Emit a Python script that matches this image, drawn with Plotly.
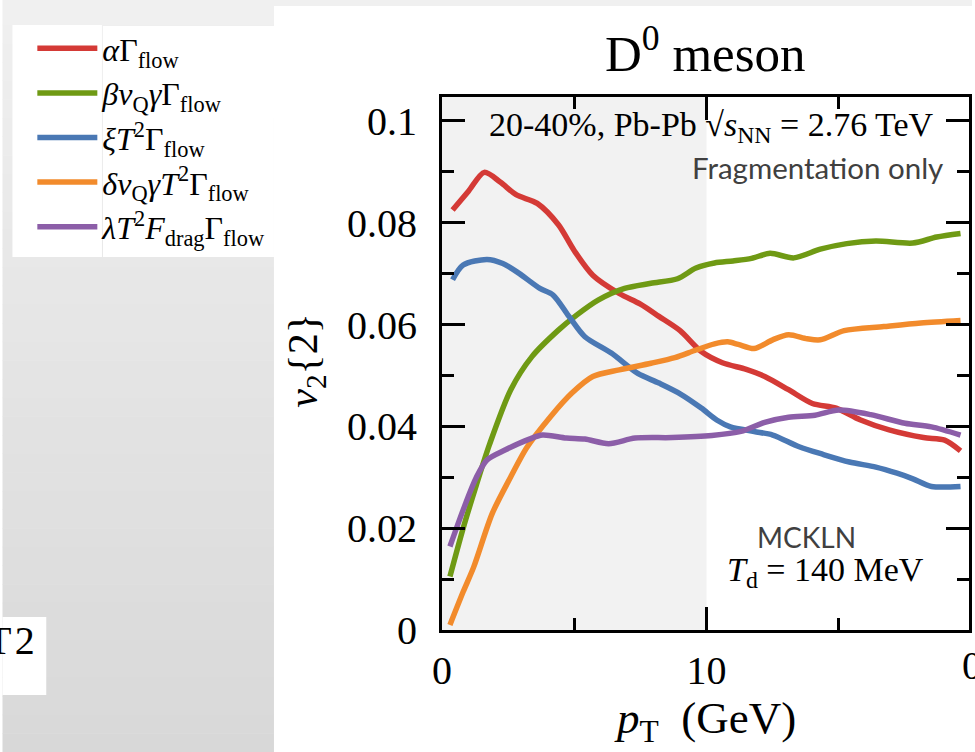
import plotly.graph_objects as go

# ---------------- data ----------------
red_x = [0.4, 1.0, 1.6, 2.2, 2.8, 3.6, 4.4, 5.0, 5.7, 6.7, 7.5, 8.2, 9.0, 9.8, 10.6, 11.5, 12.2, 13.1, 14.0, 14.9, 15.8, 16.9, 18.2, 19.0, 19.6]
red_y = [0.0825, 0.0862, 0.0899, 0.0880, 0.0855, 0.0838, 0.0796, 0.0745, 0.0697, 0.0661, 0.0640, 0.0616, 0.0588, 0.0547, 0.0525, 0.0512, 0.0498, 0.0472, 0.0445, 0.0436, 0.0413, 0.0393, 0.0378, 0.0373, 0.0352]

green_x = [0.3, 0.8, 1.3, 1.8, 2.6, 3.4, 4.4, 5.1, 5.9, 6.9, 7.9, 8.9, 9.6, 10.3, 11.0, 11.7, 12.4, 13.3, 14.3, 15.3, 16.4, 17.8, 18.7, 19.6]
green_y = [0.0105, 0.0200, 0.0285, 0.0365, 0.0472, 0.0537, 0.0589, 0.0619, 0.0648, 0.0671, 0.0681, 0.0690, 0.0711, 0.0721, 0.0725, 0.0730, 0.0740, 0.0731, 0.0748, 0.0759, 0.0764, 0.0760, 0.0772, 0.0779]

blue_x = [0.4, 0.8, 1.7, 2.3, 2.9, 3.7, 4.2, 4.8, 5.4, 6.4, 7.4, 8.2, 9.0, 9.8, 10.4, 10.9, 11.8, 12.5, 13.5, 14.4, 15.4, 16.4, 17.2, 17.8, 18.5, 19.6]
blue_y = [0.0688, 0.0717, 0.0728, 0.0720, 0.0701, 0.0671, 0.0658, 0.0616, 0.0576, 0.0544, 0.0504, 0.0485, 0.0464, 0.0436, 0.0412, 0.0399, 0.0390, 0.0383, 0.0360, 0.0345, 0.0330, 0.0320, 0.0308, 0.0297, 0.0282, 0.0282]

orange_x = [0.3, 0.8, 1.2, 1.9, 2.6, 3.2, 4.1, 4.9, 5.7, 6.7, 7.9, 8.8, 9.6, 10.3, 10.8, 11.2, 11.8, 12.5, 13.1, 13.8, 14.3, 15.2, 16.7, 18.1, 19.6]
orange_y = [0.0010, 0.0075, 0.0124, 0.0229, 0.0301, 0.0358, 0.0419, 0.0465, 0.0498, 0.0511, 0.0524, 0.0535, 0.0550, 0.0562, 0.0566, 0.0561, 0.0553, 0.0570, 0.0580, 0.0572, 0.0570, 0.0588, 0.0596, 0.0603, 0.0608]

purple_x = [0.3, 0.8, 1.3, 1.7, 2.4, 3.3, 3.8, 4.7, 5.4, 6.3, 7.3, 8.7, 10.2, 11.3, 12.2, 13.1, 14.1, 15.0, 16.2, 17.5, 18.5, 19.6]
purple_y = [0.0164, 0.0236, 0.0300, 0.0334, 0.0354, 0.0375, 0.0383, 0.0377, 0.0375, 0.0366, 0.0377, 0.0378, 0.0382, 0.0390, 0.0408, 0.0418, 0.0422, 0.0432, 0.0423, 0.0406, 0.0399, 0.0383]

series_names = [
    "<i>α</i>Γ<sub>flow</sub>",
    "<i>βv</i><sub>Q</sub><i>γ</i>Γ<sub>flow</sub>",
    "<i>ξT</i><sup>2</sup>Γ<sub>flow</sub>",
    "<i>δv</i><sub>Q</sub><i>γT</i><sup>2</sup>Γ<sub>flow</sub>",
    "<i>λT</i><sup>2</sup><i>F</i><sub>drag</sub>Γ<sub>flow</sub>",
]
series_colors = ["#d43a36", "#6f9a14", "#4a78b4", "#f28b2c", "#8c5ea8"]

x_ticks = [0, 10]
x_ticktext = ["0", "10"]
y_ticks = [0, 0.02, 0.04, 0.06, 0.08, 0.1]
y_ticktext = ["0", "0.02", "0.04", "0.06", "0.08", "0.1"]
x_range = [0, 19.92]
y_range = [0, 0.1047]
shade_range = [0, 10]

# ---------------- geometry ----------------
W, H = 975, 752
ML, MR, MT, MB = 442, 3, 97, 122
PW, PH = W - ML - MR, H - MT - MB


def px(x):
    return (x - ML) / PW


def py(y):
    return (H - MB - y) / PH


SERIF = "Liberation Serif"
SANS = "Lato"

fig = go.Figure()
all_x = [red_x, green_x, blue_x, orange_x, purple_x]
all_y = [red_y, green_y, blue_y, orange_y, purple_y]
for i, (xs, ys) in enumerate(zip(all_x, all_y)):
    fig.add_trace(go.Scatter(
        x=xs, y=ys, mode="lines", name=series_names[i],
        legendgroup=f"g{i}",
        line=dict(color=series_colors[i], width=5.5, shape="spline", smoothing=0.8),
    ))

shapes = []
# top grey strip of the slide
shapes.append(dict(type="rect", xref="paper", yref="paper", x0=px(0), x1=px(W), y0=py(0), y1=py(6),
                   fillcolor="#f0f0f0", line=dict(width=0), layer="below"))
# left grey gradient panel
nb = 40
for k in range(nb):
    y0 = 6 + (H - 6) * k / nb
    y1 = 6 + (H - 6) * (k + 1) / nb
    c = int(round(240 - (240 - 216) * (k + 0.5) / nb))
    shapes.append(dict(type="rect", xref="paper", yref="paper", x0=px(0), x1=px(273), y0=py(y0), y1=py(y1 + 0.5),
                       fillcolor=f"rgb({c},{c},{c})", line=dict(width=0), layer="below"))
# legend white boxes
shapes.append(dict(type="rect", xref="paper", yref="paper", x0=px(10), x1=px(100), y0=py(25), y1=py(257),
                   fillcolor="white", line=dict(width=0), layer="below"))
shapes.append(dict(type="rect", xref="paper", yref="paper", x0=px(101), x1=px(273), y0=py(26), y1=py(257),
                   fillcolor="white", line=dict(width=0), layer="below"))
# small white box bottom-left
shapes.append(dict(type="rect", xref="paper", yref="paper", x0=px(0), x1=px(44), y0=py(617), y1=py(695),
                   fillcolor="white", line=dict(width=0), layer="below"))
# shaded region in plot
shapes.append(dict(type="rect", xref="x", yref="paper", x0=shade_range[0], x1=shade_range[1], y0=0, y1=1,
                   fillcolor="#f2f2f2", line=dict(width=0), layer="below"))

ann = []
ann.append(dict(text="D<sup>0</sup> meson", x=px(707), y=py(50), xref="paper", yref="paper",
                showarrow=False, font=dict(family=SERIF, size=51, color="black"), xanchor="center", yanchor="middle"))
ann.append(dict(text="<i>p</i><sub>T</sub>  (GeV)", x=px(706), y=py(721), xref="paper", yref="paper",
                showarrow=False, font=dict(family=SERIF, size=45, color="black"), xanchor="center", yanchor="middle"))
ann.append(dict(text="<i>v</i><sub>2</sub>{2}", x=px(305), y=py(360), xref="paper", yref="paper", textangle=-90,
                showarrow=False, font=dict(family=SERIF, size=42, color="black"), xanchor="center", yanchor="middle"))
ann.append(dict(text="0", x=px(975), y=py(665), xref="paper", yref="paper",
                showarrow=False, font=dict(family=SERIF, size=40, color="black"), xanchor="center", yanchor="middle"))
ann.append(dict(text="20-40%, Pb-Pb √<i>s</i><sub>NN</sub> = 2.76 TeV",
                x=px(713), y=py(127), xref="paper", yref="paper", showarrow=False,
                font=dict(family=SERIF, size=34, color="black"), xanchor="center", yanchor="middle"))
ann.append(dict(text="Fragmentation only", x=px(820), y=py(167), xref="paper", yref="paper", showarrow=False,
                font=dict(family=SANS, size=29.5, color="#404040"), xanchor="center", yanchor="middle"))
ann.append(dict(text="MCKLN", x=px(809), y=py(537), xref="paper", yref="paper", showarrow=False,
                font=dict(family=SANS, size=28, color="#404040"), xanchor="center", yanchor="middle"))
ann.append(dict(text="<i>T</i><sub>d</sub> = 140 MeV", x=px(828), y=py(572), xref="paper", yref="paper", showarrow=False,
                font=dict(family=SERIF, size=34, color="black"), xanchor="center", yanchor="middle"))
ann.append(dict(text="T\u200a2", x=px(35), y=py(640), xref="paper", yref="paper", showarrow=False,
                font=dict(family=SERIF, size=40, color="black"), xanchor="right", yanchor="middle"))

axis_common = dict(showline=True, linewidth=3, linecolor="black", mirror="ticks", ticks="inside",
                   tickwidth=3, ticklen=23, tickcolor="black", showgrid=False, zeroline=False,
                   tickfont=dict(family=SERIF, size=40, color="black"))

fig.update_layout(
    width=W, height=H,
    margin=dict(l=ML, r=MR, t=MT, b=MB, pad=0),
    paper_bgcolor="white", plot_bgcolor="white",
    shapes=shapes, annotations=ann,
    showlegend=True,
    legend=dict(x=px(30), y=py(21), xanchor="left", yanchor="top", xref="paper", yref="paper",
                bgcolor="rgba(0,0,0,0)", borderwidth=0, tracegroupgap=0, itemwidth=60,
                font=dict(family=SERIF, size=32, color="black")),
    xaxis=dict(range=x_range, tickvals=x_ticks, ticktext=x_ticktext, ticklabelstandoff=3,
               minor=dict(dtick=5, tick0=0, ticks="inside", ticklen=12, tickwidth=3, tickcolor="black", showgrid=False),
               **axis_common),
    yaxis=dict(range=y_range, tickvals=y_ticks, ticktext=y_ticktext, ticklabelstandoff=14,
               minor=dict(dtick=0.01, tick0=0, ticks="inside", ticklen=12, tickwidth=3, tickcolor="black", showgrid=False),
               **axis_common),
)

fig.write_html("out.html")
